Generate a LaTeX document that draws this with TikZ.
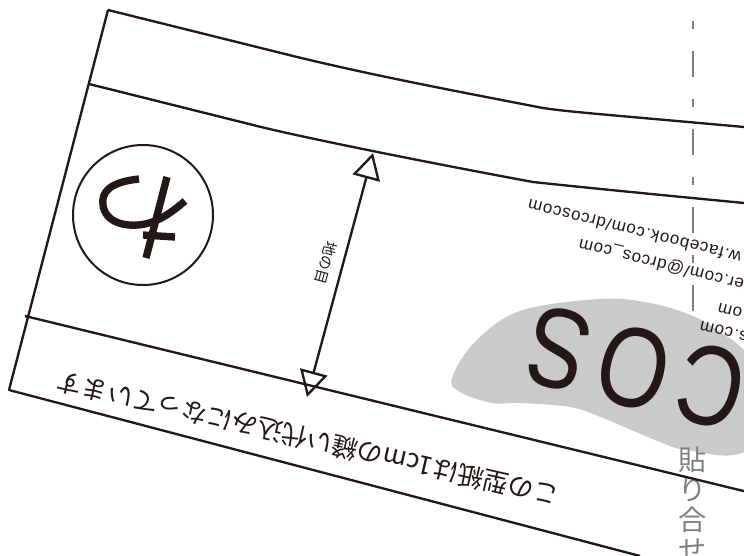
\documentclass[tikz,border=0pt]{standalone}
\usepackage{fontspec}
\usepackage{xcolor}
\setmainfont{Liberation Sans}
\newfontfamily\urlfont[LetterSpace=5]{Liberation Sans}
\newfontfamily\bigfont[LetterSpace=13]{Liberation Sans}
\newfontfamily\jpfont{Noto Sans CJK JP}
\usetikzlibrary{arrows.meta, positioning}
\definecolor{blobgray}{HTML}{C9CACA}
\definecolor{inkblack}{HTML}{231815}
\definecolor{guidegray}{HTML}{808080}
\tikzstyle{cutline} = [inkblack, line width=0.07cm, line join=round]
\tikzstyle{guideline} = [guidegray, line width=0.085cm, dash pattern=on 0.78cm off 0.66cm on 0.24cm off 0.66cm]
\tikzstyle{logostroke} = [inkblack, line width=0.22cm]
\tikzstyle{grainarrow} = [cutline, {Triangle[open,length=0.78cm,width=0.84cm]}-{Triangle[open,length=0.78cm,width=0.84cm]}]
\tikzstyle{urlline} = [inkblack, rotate=166, inner sep=0, anchor=east, font=\urlfont\fontsize{14.5}{16}\selectfont]
\tikzstyle{jpnote} = [inkblack, inner sep=0, font=\jpfont\fontsize{22}{23}\selectfont]

\begin{document}
\begin{tikzpicture}[x=0.03cm, y=-0.03cm]
    \useasboundingbox (0,0) rectangle (744,556);
    \clip (0,0) rectangle (744,556);
    \fill[white] (0,0) rectangle (744,556);

    % Gray blob behind the big letters
    \fill[blobgray] plot[smooth cycle, tension=0.6] coordinates {(452,378) (475,342) (520,311) (600,299) (650,303) (693,316)
        (720,332) (744,350) (790,400) (744,452) (687,450) (660,442) (603,418) (570,407) (520,403) (492,403) (460,392)};

    % Big letters and address lines
    \node[inkblack, rotate=166, inner sep=0, font=\bigfont\fontsize{97}{105}\selectfont] (biglogo) at (636,368) {\scalebox{0.8}[1]{COS}};
    \node[urlline] (urlface) at (528,205) {w.facebook.com/drcoscom};
    \node[urlline] (urltwit) at (579,243) {ter.com/@drcos\_com};
    \node[urlline] (urlmail) at (718,307) {om};
    \node[urlline] (urlsite) at (700,325) {s.com};

    % Fold guide
    \coordinate (guidebottom) at (693,311);
    \coordinate (guidetop) at (693,-1);
    \draw[guideline] (guidebottom) -- (guidetop);
    \node[guidegray, inner sep=0, align=center, anchor=north, font=\jpfont\fontsize{24}{25.5}\selectfont] (gluelabel) at (693,447) {貼\\り\\合\\せ};

    % Pattern outline
    \draw[cutline] (108,10) -- (9,390) -- (640,556);
    \draw[cutline] (108,10) -- (277,52) .. controls (360,73) and (450,90) .. (543,108) .. controls (570,112) and (600,114) .. (744,127);
    \draw[cutline] (89,84) -- (253,125) .. controls (300,137) and (430,163) .. (533,182) .. controls (570,186) and (640,193) .. (744,203);
    \draw[cutline] (25,316) -- (760,495);

    % Grain arrow
    \coordinate (graintop) at (373,153);
    \coordinate (grainbottom) at (307,397);
    \draw[grainarrow] (grainbottom) -- (graintop);
    \node[jpnote, rotate=255, font=\jpfont\fontsize{12.5}{14}\selectfont] (grainlabel) at (326,263) {地の目};

    % Round mark
    \draw[inkblack, line width=0.06cm] (143,215) circle[radius=2.1cm];
    \draw[logostroke] (139,179) .. controls (110,182) and (101,192) .. (103,205) .. controls (105,222) and (125,228) .. (145,224) .. controls (160,221) and (172,212) .. (185,201);
    \draw[logostroke] (167,177) -- (146,258);
    \draw[logostroke] (143,235) -- (175,237);

    % Note along the bottom
    \node[jpnote, rotate=167] (seamnote) at (308,439) {この型紙は1cmの縫い代込みになっています};
\end{tikzpicture}
\end{document}
